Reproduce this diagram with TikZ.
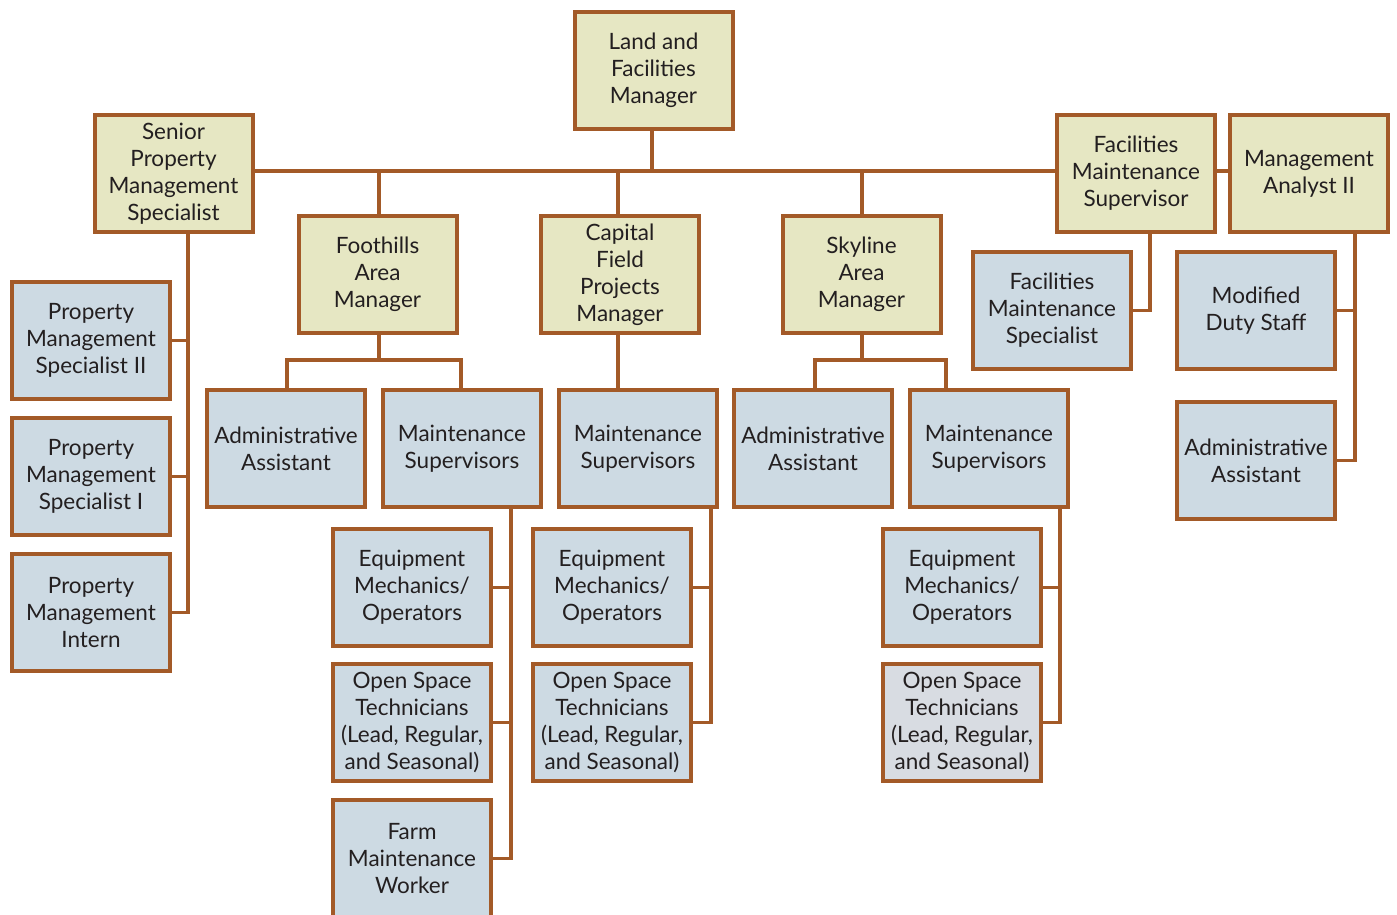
\documentclass[tikz,border=0pt]{standalone}
\usepackage{fontspec}
\setmainfont{Lato}
\definecolor{edge}{HTML}{A35A28}
\definecolor{tan}{HTML}{E6E7C3}
\definecolor{slate}{HTML}{CDDAE3}
\definecolor{greyslate}{HTML}{D8DCE2}
\definecolor{ink}{HTML}{231F20}
\tikzset{
  unit/.style={draw=edge, line width=4pt, minimum width=158pt, minimum height=117pt,
    inner sep=0pt, align=center, text=ink,
    font=\fontsize{22.5}{27}\selectfont},
  head/.style={unit, fill=tan},
  staff/.style={unit, fill=slate},
  link/.style={draw=edge, line width=3.5pt},
}
\begin{document}
\begin{tikzpicture}[x=1pt, y=-1pt]
\useasboundingbox (0,0) rectangle (1397,915);
\begin{scope}
\clip (0,0) rectangle (1397,915);
% top level
\node[head] (land)   at (653.5,70.5) {Land and\\Facilities\\Manager};
\node[head] (senior) at (173.5,173.5) {Senior\\Property\\Management\\Specialist};
\node[head] (fms)    at (1136,173.5) {Facilities\\Maintenance\\Supervisor};
\node[head] (ma)     at (1309,173.5) {Management\\Analyst II};
\node[head] (foot)   at (377.5,274.5) {Foothills\\Area\\Manager};
\node[head] (cap)    at (620,274.5) {Capital\\Field\\Projects\\Manager};
\node[head] (sky)    at (861.5,274.5) {Skyline\\Area\\Manager};
% property management column
\node[staff] (pmsii)  at (91,340.5) {Property\\Management\\Specialist II};
\node[staff] (pmsi)   at (91,476.5) {Property\\Management\\Specialist I};
\node[staff] (intern) at (91,612.5) {Property\\Management\\Intern};
% facilities / analyst columns
\node[staff] (fmspec) at (1052,310.5) {Facilities\\Maintenance\\Specialist};
\node[staff] (duty)   at (1256,310.5) {Modified\\Duty Staff};
\node[staff] (aaR)    at (1256,460.5) {Administrative\\Assistant};
% area teams
\node[staff] (aaF) at (286,448.5) {Administrative\\Assistant};
\node[staff] (msF) at (462,448.5) {Maintenance\\Supervisors};
\node[staff] (msC) at (638,448.5) {Maintenance\\Supervisors};
\node[staff] (aaS) at (813,448.5) {Administrative\\Assistant};
\node[staff] (msS) at (989,448.5) {Maintenance\\Supervisors};
\node[staff] (eqF)   at (412,587.5) {Equipment\\Mechanics/\\Operators};
\node[staff] (osF)   at (412,722.5) {Open Space\\Technicians\\(Lead, Regular,\\and Seasonal)};
\node[staff] (farm)  at (412,858.5) {Farm\\Maintenance\\Worker};
\node[staff] (eqC)   at (612,587.5) {Equipment\\Mechanics/\\Operators};
\node[staff] (osC)   at (612,722.5) {Open Space\\Technicians\\(Lead, Regular,\\and Seasonal)};
\node[staff] (eqS)   at (962,587.5) {Equipment\\Mechanics/\\Operators};
\node[staff, fill=greyslate] (osS) at (962,722.5) {Open Space\\Technicians\\(Lead, Regular,\\and Seasonal)};

% spine coordinates
\coordinate (bus)  at (652,171);
\coordinate (spP)  at (188,0);
\coordinate (spF)  at (511,0);
\coordinate (spC)  at (711,0);
\coordinate (spS)  at (1060,0);
\coordinate (spM)  at (1150,0);
\coordinate (spR)  at (1355,0);
\coordinate (splitF) at (379,360);
\coordinate (splitS) at (862,360);

% main bus
\draw[link] (land.south -| bus) -- (bus);
\draw[link] (senior.east |- bus) -- (fms.west |- bus);
\draw[link] (fms.east |- bus) -- (ma.west |- bus);
\draw[link] (foot.north -| splitF) -- (splitF |- bus);
\draw[link] (cap.north -| 618,0) -- (618,171);
\draw[link] (sky.north -| splitS) -- (splitS |- bus);
% property management
\draw[link] (senior.south -| spP) |- (intern.east);
\draw[link] (pmsii.east) -- (pmsii.east -| spP);
\draw[link] (pmsi.east) -- (pmsi.east -| spP);
% facilities maintenance
\draw[link] (fms.south -| spM) |- (fmspec.east);
% management analyst
\draw[link] (ma.south -| spR) |- (aaR.east);
\draw[link] (duty.east) -- (duty.east -| spR);
% Foothills
\draw[link] (foot.south -| splitF) -- (splitF);
\draw[link] (aaF.north -| 287,0) |- (splitF) -| (msF.north -| 461,0);
\draw[link] (msF.south -| spF) |- (farm.east);
\draw[link] (eqF.east) -- (eqF.east -| spF);
\draw[link] (osF.east) -- (osF.east -| spF);
% Capital
\draw[link] (cap.south -| 618,0) -- (msC.north -| 618,0);
\draw[link] (msC.south -| spC) |- (osC.east);
\draw[link] (eqC.east) -- (eqC.east -| spC);
% Skyline
\draw[link] (sky.south -| splitS) -- (splitS);
\draw[link] (aaS.north -| 815,0) |- (splitS) -| (msS.north -| 946,0);
\draw[link] (msS.south -| spS) |- (osS.east);
\draw[link] (eqS.east) -- (eqS.east -| spS);
\end{scope}
\end{tikzpicture}
\end{document}
